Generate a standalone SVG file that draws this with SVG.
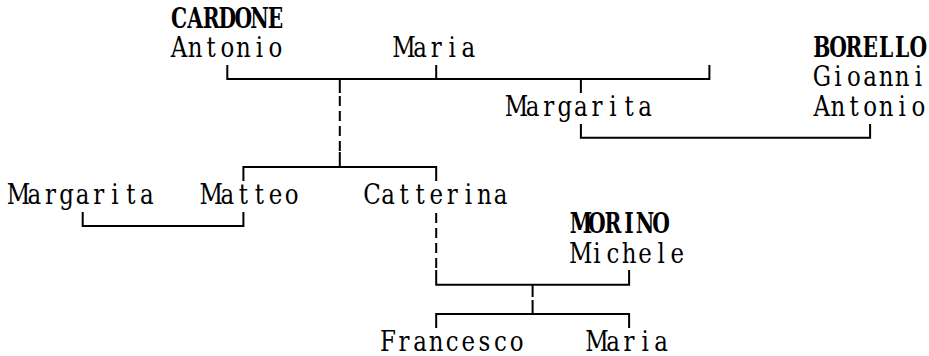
<svg xmlns="http://www.w3.org/2000/svg" width="929" height="356" viewBox="0 0 929 356">
<style>
  text { font-family: "DejaVu Serif", "Liberation Serif", serif; font-size: 27px; fill: #000; text-anchor: middle; }
  .sur { font-weight: bold; }
  .ln { fill: none; stroke: #000; stroke-width: 2; stroke-linejoin: miter; stroke-linecap: butt; }
  .dash { fill: none; stroke: #000; stroke-width: 2; stroke-dasharray: 10 5; }
</style>
<rect width="929" height="356" fill="#fff"/>
<g id="connectors">
  <path class="ln" d="M227.3,65 V79 H709.4 V65"/>
  <path class="ln" d="M436.2,65 V79"/>
  <path class="ln" d="M580.9,79 V93"/>
  <path class="ln" d="M339.8,79 V93"/>
  <path class="dash" d="M339.8,96 V152"/>
  <path class="ln" d="M580.9,124 V137.8 H870.1 V124"/>
  <path class="ln" d="M243.4,181 V167 H436.2 V181"/>
  <path class="ln" d="M339.8,152 V167"/>
  <path class="ln" d="M82.7,212 V226 H243.4 V212"/>
  <path class="dash" d="M436.2,213 V268"/>
  <path class="ln" d="M436.2,270 V284.8 H629.1 V270"/>
  <path class="ln" d="M532.6,284.8 V297"/>
  <path class="ln" d="M532.6,300 V314"/>
  <path class="ln" d="M436.2,328 V314 H629.1 V328"/>
</g>
<g transform="scale(0.75 1)">
<g id="cardone">
  <text class="sur" x="238.8 260.23 281.65 303.08 324.51 345.93 367.36" y="27.6">CARDONE</text>
</g>
<g id="borello">
  <text class="sur" x="1095.87 1117.3 1138.72 1160.15 1181.58 1203 1224.43" y="57">BORELLO</text>
</g>
<g id="morino">
  <text class="sur" x="774.47 795.89 817.32 838.75 860.17 881.6" y="233.4">MORINO</text>
</g>
</g>
<g transform="scale(0.85 1)">
<g id="antonio-cardone">
  <text x="210.71 229.61 248.52 267.43 286.33 305.24 324.14" y="57">Antonio</text>
</g>
<g id="maria-top">
  <text x="475.39 494.3 513.2 532.11 551.02" y="57">Maria</text>
</g>
<g id="gioanni-antonio-borello">
  <text x="966.95 985.85 1004.76 1023.67 1042.57 1061.48 1080.38" y="86.4">Gioanni</text>
  <text x="966.95 985.85 1004.76 1023.67 1042.57 1061.48 1080.38" y="115.8">Antonio</text>
</g>
<g id="margarita-top">
  <text x="607.73 626.64 645.55 664.45 683.36 702.26 721.17 740.08 758.98" y="115.8">Margarita</text>
</g>
<g id="margarita-left">
  <text x="21.65 40.55 59.46 78.37 97.27 116.18 135.08 153.99 172.9" y="204">Margarita</text>
</g>
<g id="matteo">
  <text x="248.52 267.43 286.33 305.24 324.14 343.05" y="204">Matteo</text>
</g>
<g id="catterina">
  <text x="437.58 456.49 475.39 494.3 513.2 532.11 551.02 569.92 588.83" y="204">Catterina</text>
</g>
<g id="michele-morino">
  <text x="683.36 702.26 721.17 740.08 758.98 777.89 796.79" y="262.8">Michele</text>
</g>
<g id="francesco">
  <text x="456.49 475.39 494.3 513.2 532.11 551.02 569.92 588.83 607.73" y="351">Francesco</text>
</g>
<g id="maria-bottom">
  <text x="702.26 721.17 740.08 758.98 777.89" y="351">Maria</text>
</g>
</g>
</svg>
